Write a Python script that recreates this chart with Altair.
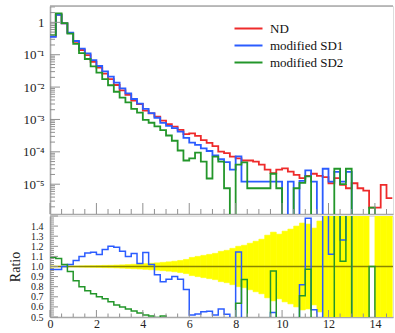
import altair as alt
import pandas as pd

FONT = "Liberation Serif"
FRAME = "#a8a8a8"
TICK = "#909090"

BIN_WIDTH = 0.25
X_DOMAIN = [0, 14.78]
Y_TOP_DOMAIN = [1.2e-6, 3.2]
RATIO_DOMAIN = [0.5, 1.5]

W, H_TOP, H_RATIO = 343, 208, 101

series_names = ["ND", "modified SD1", "modified SD2"]
series_colors = ["#ee2b2b", "#2b5cff", "#23962a"]

# normalised distributions, one value per 0.25-wide bin starting at 0
nd = [0.37, 1.75, 0.93, 0.47, 0.25, 0.14, 0.097, 0.060, 0.040, 0.026,
      0.0175, 0.0116, 0.0079, 0.0058, 0.0038, 0.0030, 1.87e-3, 1.55e-3, 1.23e-3, 9.2e-4,
      7.2e-4, 6.0e-4, 4.8e-4, 3.5e-4, 3.7e-4, 3.1e-4, 2.3e-4, 1.9e-4, 1.5e-4, 1.02e-4,
      9.1e-5, 7.1e-5, 6.3e-5, 5.4e-5, 5.4e-5, 5.0e-5, 4.0e-5, 2.8e-5, 2.2e-5, 2.8e-5,
      3.1e-5, 2.45e-5, 1.95e-5, 1.55e-5, 1.8e-5, 2.1e-5, 1.8e-5, 1.65e-5, 1.07e-5, 1.55e-5,
      9.5e-6, 7.5e-6, 1.07e-5, 7.5e-6, 6.3e-6, 1.9e-6, 1.9e-6, 9.5e-6, 3.7e-6]
sd1 = [0.359, 1.70, 0.93, 0.479, 0.265, 0.154, 0.110, 0.0684, 0.0448, 0.0304,
       0.0210, 0.0138, 0.00909, 0.00638, 0.00429, 0.00309, 2.13e-3, 1.58e-3, 1.13e-3, 7.8e-4,
       6.3e-4, 5.4e-4, 4.2e-4, 2.7e-4, 1.92e-4, 1.64e-4, 1.27e-4, 1.06e-4, 7.8e-5, 5.9e-5,
       4.8e-5, 2.8e-5, 7.2e-5, 1.2e-5, 1.2e-5, 1.2e-5, 1.2e-5, 1.2e-5, 1.2e-5, 1.2e-5,
       0.0, 1.2e-5, 0.0, 1.27e-5, 2.66e-5, 1.2e-5, 0.0, 3.0e-5, 1.2e-5, 2.4e-5,
       1.2e-5, 2.4e-5, 0.0, 0.0, 0.0, 0.0, 0.0, 0.0, 0.0]
sd2 = [0.403, 1.89, 0.949, 0.447, 0.215, 0.112, 0.0737, 0.0438, 0.028, 0.0177,
       0.0114, 0.00719, 0.00474, 0.00336, 0.00213, 0.00162, 9.7e-4, 7.9e-4, 6.1e-4, 4.7e-4,
       3.2e-4, 2.2e-4, 1.1e-4, 5.4e-5, 6.3e-5, 9.4e-5, 5.0e-5, 1.5e-5, 7.1e-5, 5.0e-5,
       7.5e-6, 0.0, 4.0e-5, 4.7e-5, 7.5e-6, 7.5e-6, 7.5e-6, 7.5e-6, 2.1e-5, 7.5e-6,
       0.0, 0.0, 7.5e-6, 1.1e-5, 1.75e-5, 0.0, 0.0, 0.0, 0.0, 3.0e-5,
       1.0e-5, 3.0e-5, 0.0, 0.0, 0.0, 1.9e-6, 0.0, 0.0, 0.0]
# relative statistical uncertainty of ND per bin (yellow band in the ratio)
nd_relerr = [0.004, 0.002, 0.003, 0.004, 0.005, 0.006, 0.007, 0.008, 0.009, 0.011,
             0.012, 0.014, 0.016, 0.019, 0.022, 0.025, 0.028, 0.032, 0.036, 0.041,
             0.046, 0.052, 0.060, 0.070, 0.090, 0.100, 0.110, 0.120, 0.130, 0.150,
             0.160, 0.180, 0.200, 0.210, 0.230, 0.250, 0.270, 0.310, 0.340, 0.320,
             0.350, 0.370, 0.400, 0.430, 0.420, 0.380, 0.450, 0.550, 0.600, 0.650,
             0.700, 0.750, 0.700, 0.800, 0.850, 0.0, 1.0, 0.6, 0.9]

x_major = [0, 2, 4, 6, 8, 10, 12, 14]
x_minor = [v / 2 for v in range(0, 30) if v % 4 != 0]
top_y_major = [1, 1e-1, 1e-2, 1e-3, 1e-4, 1e-5]
top_y_minor = [m * 10.0 ** e for e in range(-6, 1) for m in range(2, 10)
               if Y_TOP_DOMAIN[0] <= m * 10.0 ** e <= Y_TOP_DOMAIN[1]]
ratio_labels = [0.5, 0.6, 0.7, 0.8, 0.9, 1.0, 1.1, 1.2, 1.3, 1.4]
ratio_major = ratio_labels + [1.5]
ratio_minor = [round(0.5 + 0.02 * i, 2) for i in range(51) if i % 5 != 0]

n = len(nd)
bins = pd.DataFrame({
    "lo": [BIN_WIDTH * i for i in range(n)],
    "hi": [BIN_WIDTH * (i + 1) for i in range(n)],
    "ND": nd, "modified SD1": sd1, "modified SD2": sd2, "err": nd_relerr,
})
# closing row so every step outline ends at the upper edge of the last bin
closing = bins.iloc[[-1]].copy()
closing["lo"] = closing["hi"]
steps = pd.concat([bins, closing], ignore_index=True)

xs = alt.Scale(domain=X_DOMAIN, nice=False, zero=False)
ys_top = alt.Scale(type="log", domain=Y_TOP_DOMAIN, nice=False)
ys_ratio = alt.Scale(domain=RATIO_DOMAIN, nice=False, zero=False)
color_scale = alt.Scale(domain=series_names, range=series_colors)

label_expr_top = ("datum.value >= 1 ? '1' : '10\u207b' + "
                  "['', '\u00b9', '\u00b2', '\u00b3', '\u2074', '\u2075', '\u2076']"
                  "[round(-log(datum.value) / LN10)]")

top_x_axis = alt.Axis(labels=False, ticks=False, grid=False, title=None,
                      domainColor=FRAME, domainWidth=1.6)
top_y_axis = alt.Axis(values=top_y_major, labelExpr=label_expr_top, ticks=False,
                      tickSize=0, grid=False, title=None, labelFont=FONT,
                      labelFontSize=13, labelColor="#222", labelPadding=6,
                      domainColor=FRAME, domainWidth=1.6)
bottom_x_axis = alt.Axis(values=x_major, format="d", ticks=False, tickSize=0, grid=False,
                         title=None, labelFont=FONT, labelFontSize=12, labelColor="#222",
                         labelPadding=1, labelFlush=False, domainColor=FRAME,
                         domainWidth=1.6)
ratio_y_axis = alt.Axis(values=ratio_labels, format=".1f", ticks=False, tickSize=0,
                        grid=False, title="Ratio", titleFont=FONT, titleFontSize=14,
                        titleFontWeight="normal", titleColor="#222", titlePadding=8,
                        labelFont=FONT, labelFontSize=10, labelColor="#222",
                        labelOverlap=False, labelPadding=7, domainColor=FRAME,
                        domainWidth=1.6)


def ticks_x(values, x_axis, height, length):
    return alt.Chart(pd.DataFrame({"t": values})).mark_rule(
        color=TICK, strokeWidth=1).encode(
        x=alt.X("t:Q", scale=xs, axis=x_axis),
        y=alt.value(height), y2=alt.value(height - length))


def ticks_y(values, scale, y_axis, length):
    return alt.Chart(pd.DataFrame({"t": values})).mark_rule(
        color=TICK, strokeWidth=1).encode(
        y=alt.Y("t:Q", scale=scale, axis=y_axis),
        x=alt.value(0), x2=alt.value(length))


lines = alt.Chart(steps).transform_fold(
    series_names, as_=["series", "value"]
).transform_calculate(
    shown="max(datum.value, 1e-9)"
).mark_line(interpolate="step-after", clip=True, strokeWidth=1.8).encode(
    x=alt.X("lo:Q", scale=xs, axis=top_x_axis),
    y=alt.Y("shown:Q", scale=ys_top, axis=top_y_axis),
    color=alt.Color("series:N", scale=color_scale,
                    legend=alt.Legend(title=None, orient="none", legendX=192, legendY=16,
                                      symbolType="M-2.8,0H2.8", symbolSize=100,
                                      symbolStrokeWidth=2, labelFont=FONT,
                                      labelFontSize=13, labelColor="#111",
                                      labelOffset=15, rowPadding=3, padding=0)),
)

top_frame = alt.Chart(pd.DataFrame({"t": [0]})).mark_rule(
    color=FRAME, strokeWidth=1.6).encode(
    x=alt.value(0), x2=alt.value(W), y=alt.value(0))

top = alt.layer(
    lines,
    ticks_y(top_y_major, ys_top, top_y_axis, 10),
    ticks_y(top_y_minor, ys_top, top_y_axis, 5),
    ticks_x(x_major, top_x_axis, H_TOP, 11),
    ticks_x(x_minor, top_x_axis, H_TOP, 5),
    top_frame,
).properties(width=W, height=H_TOP)

# the thin same-colour stroke closes the hairline seams between adjacent bins
band = alt.Chart(bins).transform_filter("datum.err > 0").transform_calculate(
    b_lo="1 - datum.err", b_hi="1 + datum.err"
).mark_rect(clip=True, color="#ffff00", stroke="#ffff00", strokeWidth=0.6).encode(
    x=alt.X("lo:Q", scale=xs, axis=bottom_x_axis),
    x2="hi:Q",
    y=alt.Y("b_lo:Q", scale=ys_ratio, axis=ratio_y_axis),
    y2="b_hi:Q",
)

unity = alt.Chart(bins).mark_rule(color="#8a8600", strokeWidth=1.4).encode(
    y=alt.Y("one:Q", scale=ys_ratio, axis=ratio_y_axis),
    x=alt.value(0), x2=alt.value(W)
).transform_calculate(one="1").transform_filter("datum.lo == 0")

# ratio of each modified sample to ND, coloured like its own distribution
ratio_lines = alt.Chart(steps).transform_calculate(
    r1="datum.ND > 0 ? datum['modified SD1'] / datum.ND : 0",
    r2="datum.ND > 0 ? datum['modified SD2'] / datum.ND : 0",
).transform_calculate(
    **{"modified SD1": "datum.r1", "modified SD2": "datum.r2"}
).transform_fold(
    ["modified SD1", "modified SD2"], as_=["series", "value"]
).mark_line(interpolate="step-after", clip=True, strokeWidth=1.5).encode(
    x=alt.X("lo:Q", scale=xs, axis=bottom_x_axis),
    y=alt.Y("value:Q", scale=ys_ratio, axis=ratio_y_axis),
    color=alt.Color("series:N", scale=color_scale, legend=None),
)

bottom = alt.layer(
    band,
    unity,
    ratio_lines,
    ticks_y(ratio_major, ys_ratio, ratio_y_axis, 8),
    ticks_y(ratio_minor, ys_ratio, ratio_y_axis, 4),
    ticks_x(x_major, bottom_x_axis, H_RATIO, 7),
    ticks_x(x_minor, bottom_x_axis, H_RATIO, 3.5),
).properties(width=W, height=H_RATIO)

chart = alt.vconcat(top, bottom, spacing=0).properties(
    padding={"left": 8, "top": 4, "right": 0, "bottom": 0}
).configure_view(stroke=None).configure(font=FONT)

chart.save("out.html", embed_options={"renderer": "svg", "actions": False})
